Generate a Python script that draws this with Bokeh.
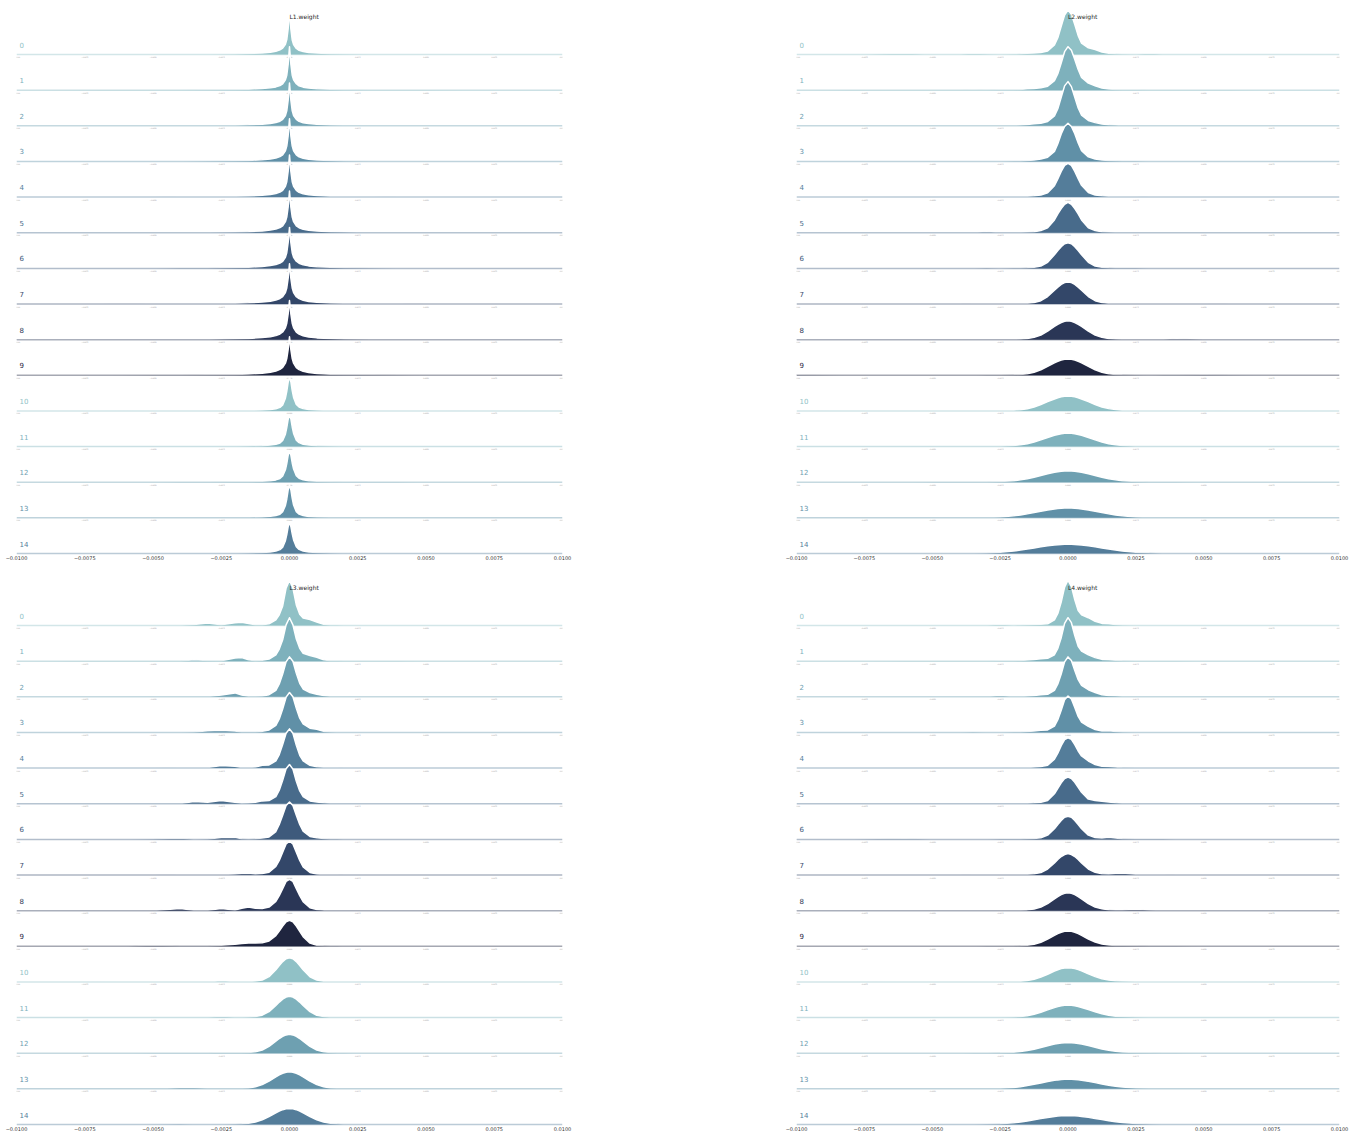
import numpy as np
from bokeh.plotting import figure
from bokeh.layouts import column, row
from bokeh.models import Range1d, FixedTicker, CustomJSTickFormatter
from bokeh.core.properties import value
from bokeh.embed import file_html
from bokeh.resources import INLINE

# ---------------- data ----------------
PANEL_TITLES = ["L1.weight", "L2.weight", "L3.weight", "L4.weight"]
ROW_LABELS = ["0", "1", "2", "3", "4", "5", "6", "7", "8", "9", "10", "11", "12", "13", "14"]
TICKS = [-0.01, -0.0075, -0.005, -0.0025, 0.0, 0.0025, 0.005, 0.0075, 0.01]
TICK_LABELS = ["\u22120.0100", "\u22120.0075", "\u22120.0050", "\u22120.0025", "0.0000",
               "0.0025", "0.0050", "0.0075", "0.0100"]

# x positions (weight value) at which the ridge heights were read
X_L1 = [-0.0100, -0.0070, -0.0050, -0.0040, -0.0030, -0.0020, -0.0015, -0.0010, -0.0007, -0.0005,
        -0.00035, -0.00025, -0.00015, -0.0001, -0.00005, 0.0, 0.00005, 0.0001, 0.00015, 0.00025,
        0.00035, 0.0005, 0.0007, 0.0010, 0.0015, 0.0020, 0.0030, 0.0040, 0.0050, 0.0070, 0.0100]
X_WIDE = [-0.0100, -0.0080, -0.0060, -0.0050, -0.0040, -0.0035, -0.0030, -0.0025, -0.0020,
          -0.00175, -0.0015, -0.00125, -0.0010, -0.00075, -0.0005, -0.000375, -0.00025, -0.000125,
          0.0,
          0.000125, 0.00025, 0.000375, 0.0005, 0.00075, 0.0010, 0.00125, 0.0015, 0.00175,
          0.0020, 0.0025, 0.0030, 0.0035, 0.0040, 0.0050, 0.0060, 0.0080, 0.0100]

# ridge heights (density, in units of the row spacing), one list per epoch row
L1_DENSITY = [
    [0, 0.002, 0.004, 0.006, 0.01, 0.018, 0.026, 0.045, 0.065, 0.09, 0.13, 0.18, 0.29, 0.42, 0.72, 1.22, 0.72, 0.41, 0.28, 0.17, 0.12, 0.085, 0.06, 0.04, 0.024, 0.015, 0.008, 0.004, 0.002, 0.001, 0],
    [0, 0.002, 0.004, 0.006, 0.01, 0.018, 0.027, 0.046, 0.066, 0.092, 0.13, 0.18, 0.29, 0.42, 0.72, 1.22, 0.73, 0.42, 0.29, 0.18, 0.12, 0.085, 0.06, 0.04, 0.024, 0.015, 0.008, 0.004, 0.002, 0.001, 0],
    [0, 0.002, 0.004, 0.007, 0.011, 0.019, 0.028, 0.047, 0.068, 0.094, 0.13, 0.18, 0.29, 0.42, 0.71, 1.2, 0.72, 0.42, 0.29, 0.18, 0.125, 0.088, 0.062, 0.042, 0.025, 0.016, 0.008, 0.004, 0.002, 0.001, 0],
    [0, 0.002, 0.005, 0.007, 0.011, 0.02, 0.029, 0.048, 0.07, 0.096, 0.135, 0.185, 0.3, 0.43, 0.72, 1.2, 0.72, 0.43, 0.3, 0.185, 0.13, 0.09, 0.064, 0.043, 0.026, 0.016, 0.009, 0.005, 0.002, 0.001, 0],
    [0, 0.003, 0.005, 0.008, 0.012, 0.021, 0.03, 0.05, 0.072, 0.1, 0.14, 0.19, 0.3, 0.43, 0.72, 1.18, 0.72, 0.43, 0.3, 0.19, 0.135, 0.093, 0.066, 0.045, 0.027, 0.017, 0.009, 0.005, 0.003, 0.001, 0],
    [0, 0.003, 0.005, 0.008, 0.012, 0.022, 0.031, 0.052, 0.075, 0.103, 0.145, 0.195, 0.31, 0.44, 0.72, 1.17, 0.72, 0.44, 0.31, 0.195, 0.14, 0.096, 0.068, 0.046, 0.028, 0.018, 0.01, 0.005, 0.003, 0.001, 0],
    [0, 0.003, 0.005, 0.008, 0.013, 0.022, 0.032, 0.054, 0.078, 0.106, 0.15, 0.2, 0.31, 0.44, 0.72, 1.15, 0.72, 0.44, 0.31, 0.2, 0.145, 0.1, 0.07, 0.047, 0.029, 0.018, 0.01, 0.006, 0.003, 0.001, 0],
    [0.001, 0.003, 0.006, 0.009, 0.013, 0.023, 0.033, 0.056, 0.08, 0.11, 0.155, 0.21, 0.32, 0.45, 0.72, 1.13, 0.72, 0.45, 0.32, 0.205, 0.15, 0.103, 0.072, 0.048, 0.03, 0.019, 0.011, 0.006, 0.003, 0.001, 0],
    [0.001, 0.003, 0.006, 0.009, 0.014, 0.024, 0.034, 0.058, 0.083, 0.113, 0.16, 0.215, 0.33, 0.46, 0.72, 1.1, 0.72, 0.46, 0.33, 0.21, 0.155, 0.106, 0.074, 0.05, 0.031, 0.02, 0.011, 0.006, 0.003, 0.001, 0],
    [0.001, 0.003, 0.006, 0.01, 0.014, 0.025, 0.035, 0.06, 0.086, 0.117, 0.165, 0.22, 0.34, 0.47, 0.72, 1.08, 0.72, 0.47, 0.34, 0.215, 0.16, 0.11, 0.076, 0.052, 0.032, 0.02, 0.012, 0.007, 0.003, 0.001, 0],
    [0, 0.001, 0.002, 0.004, 0.006, 0.01, 0.015, 0.025, 0.04, 0.06, 0.1, 0.17, 0.36, 0.55, 0.8, 0.95, 0.82, 0.57, 0.38, 0.18, 0.11, 0.065, 0.04, 0.025, 0.014, 0.009, 0.005, 0.003, 0.002, 0.001, 0],
    [0, 0.001, 0.002, 0.004, 0.006, 0.01, 0.015, 0.026, 0.042, 0.063, 0.1, 0.17, 0.35, 0.53, 0.76, 0.9, 0.78, 0.55, 0.37, 0.18, 0.11, 0.066, 0.041, 0.026, 0.015, 0.009, 0.005, 0.003, 0.002, 0.001, 0],
    [0, 0.001, 0.002, 0.004, 0.006, 0.01, 0.015, 0.026, 0.043, 0.065, 0.105, 0.175, 0.35, 0.52, 0.75, 0.88, 0.76, 0.54, 0.37, 0.18, 0.11, 0.067, 0.042, 0.026, 0.015, 0.009, 0.005, 0.003, 0.002, 0.001, 0],
    [0, 0.001, 0.002, 0.004, 0.006, 0.01, 0.015, 0.026, 0.042, 0.063, 0.1, 0.17, 0.35, 0.53, 0.78, 0.92, 0.79, 0.55, 0.36, 0.17, 0.105, 0.064, 0.04, 0.025, 0.014, 0.009, 0.005, 0.003, 0.002, 0.001, 0],
    [0, 0.001, 0.002, 0.004, 0.006, 0.01, 0.015, 0.027, 0.045, 0.068, 0.11, 0.18, 0.36, 0.53, 0.75, 0.88, 0.76, 0.55, 0.38, 0.19, 0.115, 0.07, 0.043, 0.027, 0.015, 0.009, 0.005, 0.003, 0.002, 0.001, 0],
]

L2_DENSITY = [
    [0, 0.004, 0.03, 0.003, 0.005, 0.03, 0.012, 0.008, 0.015, 0.02, 0.035, 0.045, 0.06, 0.10, 0.27, 0.47, 0.79, 1.11, 1.25, 1.13, 0.84, 0.53, 0.32, 0.19, 0.14, 0.07, 0.035, 0.02, 0.012, 0.008, 0.03, 0.006, 0.003, 0.002, 0.002, 0.001, 0],
    [0, 0.006, 0.004, 0.008, 0.005, 0.01, 0.006, 0.012, 0.01, 0.02, 0.04, 0.05, 0.065, 0.11, 0.27, 0.46, 0.76, 1.08, 1.22, 1.12, 0.86, 0.58, 0.36, 0.2, 0.12, 0.06, 0.03, 0.02, 0.015, 0.012, 0.008, 0.005, 0.004, 0.002, 0.002, 0.001, 0],
    [0.004, 0.002, 0.005, 0.004, 0.006, 0.004, 0.008, 0.006, 0.012, 0.02, 0.04, 0.055, 0.07, 0.12, 0.28, 0.48, 0.8, 1.12, 1.24, 1.1, 0.8, 0.5, 0.3, 0.15, 0.09, 0.05, 0.03, 0.02, 0.012, 0.01, 0.006, 0.004, 0.003, 0.002, 0.001, 0.001, 0],
    [0, 0.003, 0.002, 0.004, 0.006, 0.004, 0.005, 0.008, 0.01, 0.015, 0.025, 0.04, 0.07, 0.12, 0.28, 0.5, 0.77, 0.98, 1.07, 0.98, 0.78, 0.52, 0.3, 0.13, 0.07, 0.04, 0.025, 0.02, 0.015, 0.01, 0.006, 0.004, 0.003, 0.002, 0.001, 0, 0],
    [0, 0.002, 0.004, 0.003, 0.005, 0.004, 0.006, 0.01, 0.012, 0.016, 0.022, 0.035, 0.06, 0.12, 0.32, 0.51, 0.72, 0.89, 0.95, 0.89, 0.72, 0.52, 0.33, 0.13, 0.06, 0.035, 0.022, 0.015, 0.01, 0.008, 0.005, 0.004, 0.002, 0.002, 0.001, 0, 0],
    [0.002, 0.003, 0.002, 0.004, 0.003, 0.005, 0.03, 0.008, 0.012, 0.014, 0.02, 0.03, 0.06, 0.14, 0.36, 0.53, 0.68, 0.8, 0.85, 0.8, 0.68, 0.53, 0.36, 0.14, 0.06, 0.03, 0.02, 0.014, 0.012, 0.01, 0.006, 0.004, 0.003, 0.002, 0.001, 0, 0],
    [0.001, 0.002, 0.004, 0.003, 0.006, 0.004, 0.008, 0.006, 0.008, 0.01, 0.015, 0.03, 0.065, 0.17, 0.38, 0.5, 0.61, 0.69, 0.72, 0.69, 0.61, 0.5, 0.38, 0.17, 0.065, 0.03, 0.016, 0.012, 0.01, 0.008, 0.006, 0.004, 0.003, 0.002, 0.001, 0, 0],
    [0.001, 0.002, 0.003, 0.004, 0.004, 0.005, 0.005, 0.006, 0.008, 0.011, 0.018, 0.04, 0.093, 0.21, 0.385, 0.47, 0.55, 0.6, 0.62, 0.6, 0.55, 0.47, 0.385, 0.21, 0.093, 0.04, 0.018, 0.011, 0.008, 0.006, 0.008, 0.015, 0.018, 0.006, 0.002, 0.001, 0],
    [0.001, 0.006, 0.003, 0.003, 0.003, 0.004, 0.004, 0.005, 0.008, 0.015, 0.03, 0.064, 0.13, 0.24, 0.37, 0.43, 0.48, 0.517, 0.53, 0.517, 0.48, 0.43, 0.37, 0.24, 0.13, 0.064, 0.03, 0.016, 0.009, 0.006, 0.006, 0.012, 0.025, 0.008, 0.002, 0.001, 0],
    [0.012, 0.004, 0.003, 0.003, 0.004, 0.004, 0.005, 0.007, 0.013, 0.023, 0.046, 0.087, 0.156, 0.25, 0.35, 0.39, 0.43, 0.45, 0.46, 0.45, 0.43, 0.39, 0.35, 0.25, 0.156, 0.087, 0.046, 0.023, 0.013, 0.006, 0.004, 0.005, 0.01, 0.015, 0.006, 0.002, 0],
    [0.001, 0.002, 0.002, 0.003, 0.003, 0.003, 0.004, 0.008, 0.02, 0.036, 0.063, 0.11, 0.18, 0.26, 0.336, 0.37, 0.397, 0.414, 0.42, 0.414, 0.397, 0.37, 0.336, 0.26, 0.18, 0.11, 0.065, 0.038, 0.022, 0.01, 0.005, 0.003, 0.003, 0.002, 0.001, 0, 0],
    [0.001, 0.004, 0.002, 0.002, 0.002, 0.003, 0.005, 0.011, 0.029, 0.049, 0.082, 0.13, 0.19, 0.257, 0.32, 0.34, 0.361, 0.374, 0.38, 0.374, 0.361, 0.34, 0.32, 0.257, 0.19, 0.13, 0.082, 0.05, 0.03, 0.012, 0.006, 0.003, 0.002, 0.001, 0.001, 0, 0],
    [0, 0.001, 0.002, 0.003, 0.004, 0.005, 0.008, 0.017, 0.042, 0.066, 0.099, 0.141, 0.189, 0.238, 0.28, 0.296, 0.309, 0.317, 0.32, 0.317, 0.309, 0.296, 0.28, 0.238, 0.189, 0.141, 0.099, 0.066, 0.042, 0.018, 0.009, 0.005, 0.003, 0.002, 0.001, 0, 0],
    [0, 0.001, 0.001, 0.002, 0.004, 0.006, 0.012, 0.025, 0.056, 0.08, 0.112, 0.148, 0.185, 0.221, 0.25, 0.263, 0.272, 0.277, 0.28, 0.277, 0.272, 0.263, 0.25, 0.221, 0.185, 0.148, 0.112, 0.08, 0.056, 0.026, 0.013, 0.007, 0.004, 0.002, 0.001, 0, 0],
    [0, 0.001, 0.001, 0.002, 0.005, 0.009, 0.017, 0.035, 0.07, 0.095, 0.125, 0.156, 0.187, 0.216, 0.238, 0.247, 0.254, 0.257, 0.26, 0.257, 0.254, 0.247, 0.238, 0.216, 0.187, 0.156, 0.125, 0.095, 0.07, 0.036, 0.018, 0.01, 0.005, 0.002, 0.001, 0, 0],
]

L3_DENSITY = [
    [0, 0.002, 0.003, 0.004, 0.006, 0.03, 0.07, 0.02, 0.08, 0.09, 0.06, 0.02, 0.02, 0.05, 0.16, 0.3, 0.55, 1.05, 1.27, 1.05, 0.58, 0.32, 0.21, 0.17, 0.1, 0.035, 0.012, 0.015, 0.008, 0.004, 0.003, 0.002, 0.002, 0.001, 0.001, 0, 0],
    [0, 0.002, 0.002, 0.003, 0.005, 0.04, 0.02, 0.01, 0.09, 0.1, 0.04, 0.015, 0.025, 0.06, 0.18, 0.34, 0.6, 1.02, 1.22, 1.02, 0.62, 0.36, 0.22, 0.16, 0.11, 0.04, 0.015, 0.01, 0.006, 0.004, 0.003, 0.002, 0.002, 0.001, 0.001, 0, 0],
    [0, 0.002, 0.003, 0.004, 0.006, 0.008, 0.006, 0.05, 0.11, 0.05, 0.015, 0.015, 0.025, 0.06, 0.18, 0.36, 0.64, 0.98, 1.12, 1.0, 0.66, 0.38, 0.22, 0.12, 0.07, 0.035, 0.015, 0.01, 0.006, 0.004, 0.003, 0.002, 0.001, 0.001, 0, 0, 0],
    [0, 0.002, 0.003, 0.004, 0.008, 0.01, 0.05, 0.06, 0.04, 0.015, 0.012, 0.015, 0.03, 0.07, 0.2, 0.38, 0.66, 0.99, 1.12, 1.0, 0.68, 0.4, 0.24, 0.12, 0.09, 0.03, 0.012, 0.008, 0.005, 0.003, 0.002, 0.002, 0.001, 0.001, 0, 0, 0],
    [0, 0.001, 0.003, 0.004, 0.008, 0.01, 0.015, 0.07, 0.05, 0.02, 0.015, 0.03, 0.08, 0.09, 0.2, 0.38, 0.66, 0.98, 1.1, 0.98, 0.64, 0.36, 0.2, 0.08, 0.04, 0.025, 0.012, 0.008, 0.005, 0.003, 0.002, 0.002, 0.001, 0.001, 0, 0, 0],
    [0, 0.001, 0.003, 0.005, 0.008, 0.06, 0.04, 0.09, 0.04, 0.015, 0.02, 0.04, 0.08, 0.09, 0.2, 0.38, 0.66, 0.98, 1.1, 0.97, 0.63, 0.36, 0.2, 0.08, 0.05, 0.03, 0.015, 0.01, 0.006, 0.004, 0.003, 0.002, 0.001, 0.001, 0, 0, 0],
    [0, 0.001, 0.002, 0.01, 0.03, 0.006, 0.008, 0.05, 0.06, 0.02, 0.012, 0.02, 0.04, 0.07, 0.22, 0.42, 0.68, 0.95, 1.05, 0.95, 0.68, 0.42, 0.23, 0.08, 0.045, 0.025, 0.012, 0.008, 0.005, 0.003, 0.002, 0.002, 0.001, 0.001, 0, 0, 0],
    [0, 0.002, 0.003, 0.004, 0.005, 0.008, 0.01, 0.015, 0.03, 0.04, 0.05, 0.03, 0.04, 0.08, 0.24, 0.41, 0.64, 0.87, 0.95, 0.87, 0.64, 0.41, 0.23, 0.07, 0.03, 0.015, 0.01, 0.006, 0.004, 0.003, 0.002, 0.001, 0.001, 0, 0, 0, 0],
    [0, 0.003, 0.004, 0.006, 0.06, 0.01, 0.012, 0.06, 0.02, 0.07, 0.1, 0.07, 0.06, 0.1, 0.26, 0.42, 0.62, 0.82, 0.88, 0.82, 0.62, 0.42, 0.25, 0.08, 0.03, 0.015, 0.01, 0.006, 0.004, 0.003, 0.002, 0.001, 0.001, 0, 0, 0, 0],
    [0.002, 0.003, 0.004, 0.03, 0.005, 0.006, 0.01, 0.03, 0.06, 0.075, 0.09, 0.095, 0.1, 0.15, 0.3, 0.43, 0.57, 0.69, 0.73, 0.69, 0.57, 0.42, 0.27, 0.09, 0.03, 0.015, 0.01, 0.006, 0.004, 0.003, 0.002, 0.001, 0.001, 0, 0, 0, 0],
    [0, 0.001, 0.002, 0.003, 0.004, 0.005, 0.008, 0.03, 0.015, 0.012, 0.015, 0.025, 0.055, 0.15, 0.34, 0.46, 0.57, 0.65, 0.68, 0.65, 0.57, 0.46, 0.34, 0.146, 0.051, 0.02, 0.008, 0.005, 0.003, 0.002, 0.001, 0.001, 0, 0, 0, 0, 0],
    [0, 0.001, 0.002, 0.003, 0.004, 0.006, 0.01, 0.03, 0.01, 0.01, 0.015, 0.03, 0.068, 0.168, 0.339, 0.435, 0.519, 0.576, 0.6, 0.576, 0.519, 0.435, 0.339, 0.168, 0.066, 0.027, 0.011, 0.006, 0.003, 0.002, 0.001, 0.001, 0, 0, 0, 0, 0],
    [0, 0.001, 0.002, 0.003, 0.004, 0.005, 0.006, 0.02, 0.01, 0.012, 0.02, 0.04, 0.09, 0.193, 0.337, 0.413, 0.472, 0.514, 0.53, 0.514, 0.472, 0.413, 0.337, 0.193, 0.09, 0.038, 0.017, 0.008, 0.005, 0.002, 0.001, 0.001, 0, 0, 0, 0, 0],
    [0, 0.001, 0.002, 0.005, 0.03, 0.03, 0.015, 0.006, 0.008, 0.014, 0.027, 0.058, 0.118, 0.216, 0.336, 0.391, 0.437, 0.468, 0.48, 0.468, 0.437, 0.391, 0.336, 0.216, 0.118, 0.058, 0.027, 0.014, 0.007, 0.003, 0.001, 0.001, 0, 0, 0, 0, 0],
    [0, 0.001, 0.002, 0.01, 0.012, 0.01, 0.008, 0.008, 0.012, 0.02, 0.036, 0.068, 0.133, 0.225, 0.329, 0.378, 0.416, 0.44, 0.45, 0.44, 0.416, 0.378, 0.329, 0.225, 0.133, 0.068, 0.034, 0.018, 0.01, 0.004, 0.002, 0.001, 0, 0, 0, 0, 0],
]

L4_DENSITY = [
    [0, 0.001, 0.002, 0.003, 0.004, 0.005, 0.01, 0.03, 0.01, 0.015, 0.025, 0.03, 0.035, 0.05, 0.16, 0.34, 0.66, 1.08, 1.27, 1.1, 0.72, 0.42, 0.3, 0.22, 0.12, 0.06, 0.05, 0.03, 0.012, 0.006, 0.004, 0.003, 0.002, 0.001, 0.001, 0, 0],
    [0, 0.001, 0.002, 0.004, 0.005, 0.006, 0.008, 0.012, 0.015, 0.02, 0.03, 0.05, 0.07, 0.08, 0.18, 0.36, 0.66, 1.06, 1.22, 1.08, 0.72, 0.42, 0.28, 0.18, 0.1, 0.05, 0.04, 0.025, 0.012, 0.006, 0.004, 0.003, 0.002, 0.001, 0.001, 0, 0],
    [0, 0.001, 0.002, 0.003, 0.004, 0.005, 0.01, 0.04, 0.012, 0.012, 0.02, 0.04, 0.06, 0.07, 0.18, 0.36, 0.64, 0.98, 1.12, 1.02, 0.74, 0.48, 0.32, 0.2, 0.12, 0.06, 0.035, 0.03, 0.015, 0.006, 0.004, 0.003, 0.002, 0.001, 0.001, 0, 0],
    [0, 0.001, 0.002, 0.003, 0.006, 0.01, 0.008, 0.006, 0.01, 0.015, 0.025, 0.04, 0.06, 0.07, 0.18, 0.36, 0.62, 0.92, 1.02, 0.94, 0.7, 0.45, 0.29, 0.17, 0.08, 0.04, 0.05, 0.025, 0.01, 0.005, 0.004, 0.003, 0.002, 0.001, 0.001, 0, 0],
    [0.002, 0.002, 0.002, 0.003, 0.004, 0.004, 0.005, 0.006, 0.01, 0.015, 0.02, 0.03, 0.045, 0.08, 0.25, 0.42, 0.63, 0.8, 0.85, 0.81, 0.66, 0.48, 0.34, 0.2, 0.1, 0.05, 0.045, 0.03, 0.012, 0.006, 0.004, 0.003, 0.002, 0.001, 0.001, 0, 0],
    [0.002, 0.002, 0.002, 0.003, 0.004, 0.004, 0.01, 0.006, 0.008, 0.01, 0.015, 0.025, 0.04, 0.09, 0.28, 0.43, 0.585, 0.705, 0.75, 0.71, 0.6, 0.46, 0.32, 0.13, 0.09, 0.07, 0.05, 0.03, 0.015, 0.008, 0.006, 0.004, 0.003, 0.002, 0.001, 0, 0],
    [0.001, 0.002, 0.02, 0.004, 0.004, 0.005, 0.006, 0.008, 0.01, 0.012, 0.016, 0.022, 0.045, 0.12, 0.3, 0.42, 0.53, 0.62, 0.65, 0.62, 0.53, 0.42, 0.3, 0.12, 0.05, 0.04, 0.06, 0.04, 0.015, 0.01, 0.012, 0.008, 0.004, 0.002, 0.001, 0, 0],
    [0.001, 0.002, 0.003, 0.004, 0.004, 0.005, 0.006, 0.008, 0.01, 0.012, 0.02, 0.035, 0.07, 0.168, 0.339, 0.435, 0.519, 0.576, 0.6, 0.576, 0.519, 0.435, 0.339, 0.17, 0.075, 0.035, 0.03, 0.045, 0.05, 0.025, 0.008, 0.005, 0.004, 0.003, 0.001, 0, 0],
    [0.001, 0.002, 0.002, 0.003, 0.004, 0.005, 0.006, 0.008, 0.01, 0.014, 0.022, 0.045, 0.1, 0.2, 0.33, 0.395, 0.45, 0.485, 0.5, 0.485, 0.45, 0.395, 0.33, 0.2, 0.1, 0.05, 0.028, 0.02, 0.022, 0.03, 0.015, 0.006, 0.004, 0.003, 0.001, 0, 0],
    [0.001, 0.002, 0.002, 0.003, 0.004, 0.004, 0.005, 0.006, 0.009, 0.014, 0.028, 0.056, 0.114, 0.202, 0.307, 0.357, 0.393, 0.42, 0.43, 0.42, 0.393, 0.357, 0.307, 0.205, 0.12, 0.065, 0.038, 0.025, 0.02, 0.015, 0.01, 0.008, 0.006, 0.003, 0.002, 0.001, 0],
    [0.001, 0.001, 0.002, 0.002, 0.003, 0.003, 0.004, 0.006, 0.012, 0.02, 0.04, 0.076, 0.136, 0.216, 0.304, 0.342, 0.374, 0.392, 0.4, 0.392, 0.374, 0.345, 0.31, 0.225, 0.15, 0.09, 0.055, 0.035, 0.025, 0.016, 0.012, 0.01, 0.008, 0.005, 0.002, 0.001, 0],
    [0, 0.001, 0.002, 0.002, 0.003, 0.003, 0.004, 0.007, 0.017, 0.03, 0.053, 0.093, 0.15, 0.217, 0.28, 0.308, 0.331, 0.345, 0.35, 0.345, 0.331, 0.31, 0.284, 0.225, 0.16, 0.105, 0.065, 0.04, 0.027, 0.015, 0.01, 0.007, 0.005, 0.003, 0.002, 0.001, 0],
    [0, 0.001, 0.001, 0.002, 0.002, 0.003, 0.005, 0.011, 0.028, 0.045, 0.074, 0.113, 0.16, 0.21, 0.255, 0.273, 0.288, 0.297, 0.3, 0.297, 0.288, 0.273, 0.256, 0.214, 0.166, 0.12, 0.082, 0.053, 0.035, 0.017, 0.01, 0.006, 0.004, 0.002, 0.001, 0, 0],
    [0, 0.001, 0.001, 0.002, 0.002, 0.004, 0.008, 0.018, 0.04, 0.062, 0.092, 0.127, 0.167, 0.205, 0.238, 0.252, 0.261, 0.267, 0.27, 0.267, 0.262, 0.254, 0.24, 0.21, 0.175, 0.137, 0.102, 0.072, 0.05, 0.027, 0.016, 0.012, 0.01, 0.008, 0.006, 0.002, 0],
    [0, 0.001, 0.001, 0.002, 0.003, 0.005, 0.011, 0.022, 0.05, 0.071, 0.1, 0.132, 0.165, 0.197, 0.224, 0.235, 0.243, 0.247, 0.25, 0.247, 0.243, 0.236, 0.226, 0.2, 0.17, 0.138, 0.106, 0.078, 0.056, 0.027, 0.014, 0.008, 0.005, 0.002, 0.001, 0, 0],
]

# ---------------- style ----------------
FONT = "DejaVu Sans"
ROW_PX = 35.64          # vertical pixels between two ridge baselines


def cubehelix_palette(n, start=0.0, rot=-0.25, gamma=1.0, hue=0.8, light=0.7, dark=0.15):
    coeffs = [(-0.14861, 1.78277), (-0.29227, -0.90649), (1.97294, 0.0)]
    out = []
    for x in np.linspace(light, dark, n):
        idx = min(int(x * 256), 255)
        xv = idx / 255.0
        xg = xv ** gamma
        a = hue * xg * (1 - xg) / 2
        phi = 2 * np.pi * (start / 3 + rot * xv)
        rgb = [float(np.clip(xg + a * (p0 * np.cos(phi) + p1 * np.sin(phi)), 0, 1)) for p0, p1 in coeffs]
        out.append("#%02x%02x%02x" % tuple(int(round(v * 255)) for v in rgb))
    return out


PALETTE = cubehelix_palette(10)


def make_panel(title, xs, rows, width, height, b_left, b_right, b_top, b_bottom,
               base_offset_px=2, title_px=38):
    frame_h = height - b_bottom - b_top
    y_bottom = -(len(rows) - 1) - base_offset_px / ROW_PX
    y_top = y_bottom + frame_h / ROW_PX
    p = figure(width=width, height=height,
               x_range=Range1d(TICKS[0], TICKS[-1]), y_range=Range1d(y_bottom, y_top),
               output_backend="svg", toolbar_location=None, tools="",
               min_border_left=b_left, min_border_right=b_right,
               min_border_top=b_top, min_border_bottom=b_bottom,
               y_axis_location=None)
    p.outline_line_color = None
    p.grid.visible = False
    p.background_fill_color = "white"
    p.border_fill_color = "white"

    xa = p.xaxis[0]
    xa.ticker = FixedTicker(ticks=TICKS)
    xa.formatter = CustomJSTickFormatter(args=dict(tvals=TICKS, tlabs=TICK_LABELS), code="""
        for (let k = 0; k < tvals.length; k++) {
            if (Math.abs(tvals[k] - tick) < 1e-9) { return tlabs[k]; }
        }
        return "";
    """)
    xa.axis_line_color = None
    xa.major_tick_line_color = None
    xa.minor_tick_line_color = None
    xa.major_tick_out = 0
    xa.major_tick_in = 0
    xa.major_label_standoff = 0
    xa.major_label_text_font_size = "5px"
    xa.major_label_text_font = FONT
    xa.major_label_text_color = "#333333"

    n = len(rows)
    for i, dens in enumerate(rows):
        c = PALETTE[i % len(PALETTE)]
        base = [-i] * len(xs)
        top = [-i + v for v in dens]
        p.varea(x=xs, y1=base, y2=top, fill_color=c, fill_alpha=1.0)
        p.line(xs, top, line_color="white", line_width=1.5, line_join="round")
        p.line([TICKS[0], TICKS[-1]], [-i, -i], line_color=c, line_alpha=0.4, line_width=1.5)
        if i < n - 1:
            p.text(x=TICKS, y=[-i - 3.0 / ROW_PX] * len(TICKS), text=TICK_LABELS,
                   text_font=value(FONT), text_font_size="1.6px", text_color="#8a8a8a",
                   text_align="center", text_baseline="middle")
        p.text(x=[TICKS[0]], y=[-i + 10.0 / ROW_PX], text=[ROW_LABELS[i]], x_offset=3,
               text_font=value(FONT), text_font_size="7px", text_color=c,
               text_align="left", text_baseline="middle")

    p.text(x=[TICKS[4]], y=[title_px / ROW_PX], text=[title],
           text_font=value(FONT), text_font_size="6px", text_color="#262626",
           text_align="left", text_baseline="middle")
    return p


W = 678
TOP_H = 567
BOT_H = 571
p1 = make_panel(PANEL_TITLES[0], X_L1, L1_DENSITY, W, TOP_H, 16, 116, 8, 12)
p2 = make_panel(PANEL_TITLES[1], X_WIDE, L2_DENSITY, W, TOP_H, 118, 17, 8, 12)
p3 = make_panel(PANEL_TITLES[2], X_WIDE, L3_DENSITY, W, BOT_H, 16, 116, 0, 12)
p4 = make_panel(PANEL_TITLES[3], X_WIDE, L4_DENSITY, W, BOT_H, 118, 17, 0, 12)

layout = column(row(p1, p2), row(p3, p4))
open("out.html", "w").write(file_html(layout, INLINE))
